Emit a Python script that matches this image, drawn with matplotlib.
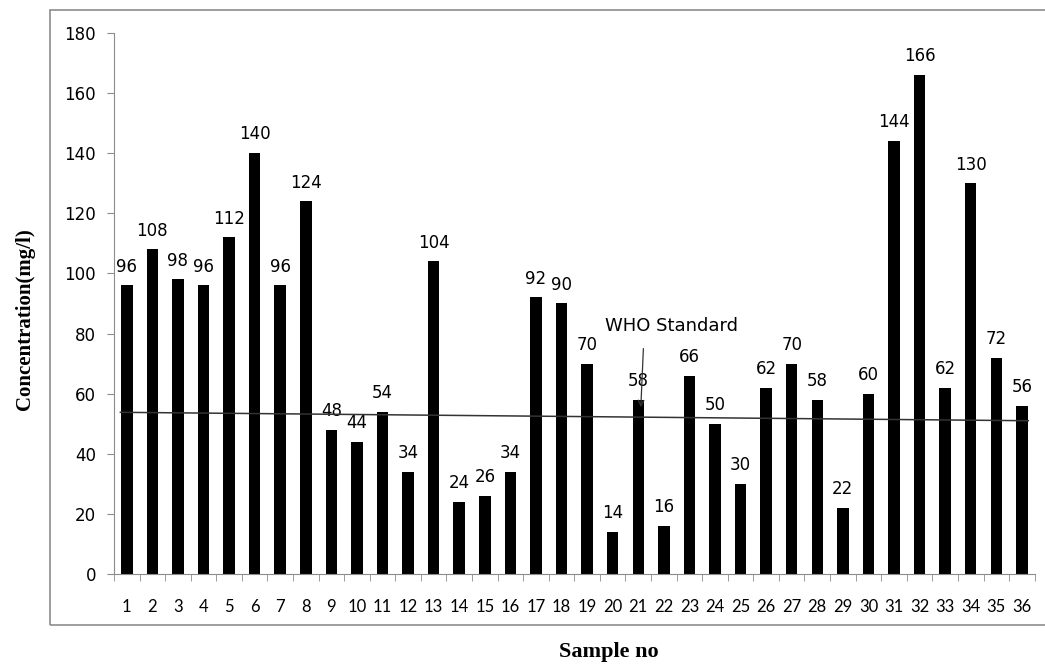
import matplotlib.pyplot as plt
import numpy as np
from matplotlib.patches import Rectangle

# Sample numbers and measured concentrations (mg/l)
samples = list(range(1, 37))
concentration = [96, 108, 98, 96, 112, 140, 96, 124, 48, 44, 54, 34,
                 104, 24, 26, 34, 92, 90, 70, 14, 58, 16, 66, 50,
                 30, 62, 70, 58, 22, 60, 144, 166, 62, 130, 72, 56]

# WHO standard line (drawn slightly sloped in the original)
who_x = [0.75, 36.25]
who_y = [53.8, 51.0]
y_ticks = list(range(0, 181, 20))

fig = plt.figure(figsize=(10.45, 6.66), dpi=100)
ax = fig.add_axes([0.1091, 0.1381, 0.881, 0.8124])

# Outer grey frame around the chart
fig.patches.append(Rectangle((50 / 1045, 1 - 625 / 666), 1.0, 615 / 666,
                             transform=fig.transFigure, fill=False,
                             edgecolor='#8c8c8c', lw=1.2))

ax.bar(samples, concentration, width=0.45, color='black', zorder=2)
for s, v in zip(samples, concentration):
    ax.annotate(str(v), (s, v), xytext=(0, 7), textcoords='offset points',
                ha='center', va='bottom', fontsize=12, family='DejaVu Sans')

ax.plot(who_x, who_y, color='#333333', lw=1.1, zorder=3)
ax.text(22.3, 82.5, 'WHO Standard', ha='center', va='center', fontsize=13,
        family='DejaVu Sans')
ax.annotate('', xy=(21.1, 55.5), xytext=(21.2, 75),
            arrowprops=dict(arrowstyle='->', color='#333333', lw=0.9,
                            shrinkA=0, shrinkB=0))

ax.set_xlim(0.5, 36.5)
ax.set_ylim(0, 180)
ax.set_yticks(y_ticks)
ax.set_xticks(samples)
ax.set_xticks(np.arange(0.5, 37, 1), minor=True)
ax.tick_params(axis='x', which='major', length=0, pad=18, labelsize=12)
ax.tick_params(axis='x', which='minor', length=5, color='#8c8c8c')
ax.tick_params(axis='y', length=5, color='#8c8c8c', pad=8, labelsize=12)
for lab in ax.get_xticklabels():
    lab.set_family('Lato')
for lab in ax.get_yticklabels():
    lab.set_family('DejaVu Sans')

for side in ['top', 'right']:
    ax.spines[side].set_visible(False)
for side in ['left', 'bottom']:
    ax.spines[side].set_color('#8c8c8c')

fig.text(25 / 1045, 1 - 319 / 666, 'Concentration(mg/l)', rotation=90,
         ha='center', va='center', fontsize=15, fontweight='bold',
         family='Liberation Serif')
fig.text(609 / 1045, 1 - 652 / 666, 'Sample no', ha='center', va='center',
         fontsize=16, fontweight='bold', family='Liberation Serif')

fig.savefig('out.png', dpi=100)
